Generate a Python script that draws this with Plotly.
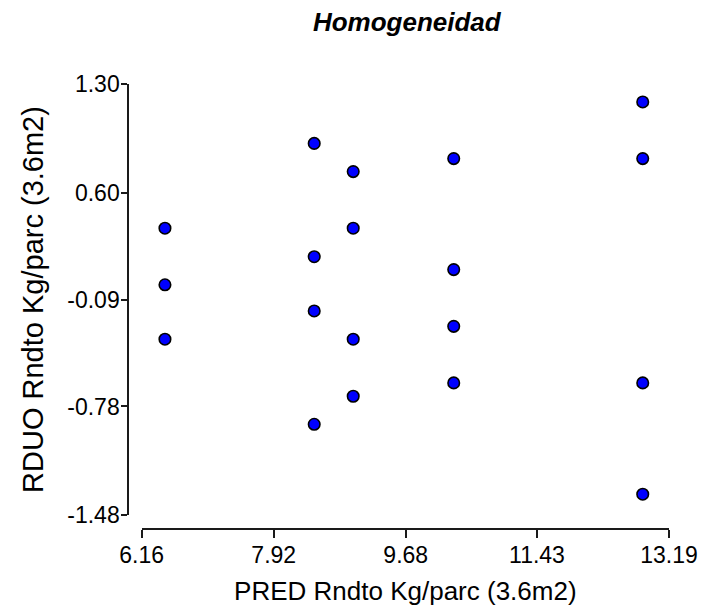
import plotly.graph_objects as go

# Data
pred = [6.47, 6.47, 6.47,
        8.46, 8.46, 8.46, 8.46,
        8.98, 8.98, 8.98, 8.98,
        10.32, 10.32, 10.32, 10.32,
        12.84, 12.84, 12.84, 12.84]
rduo = [0.370, 0.005, -0.346,
        0.917, 0.186, -0.164, -0.895,
        0.735, 0.370, -0.346, -0.714,
        0.819, 0.103, -0.263, -0.628,
        1.184, 0.819, -0.628, -1.346]

x_ticks = [6.16, 7.92, 9.68, 11.43, 13.19]
x_ticktext = ["6.16", "7.92", "9.68", "11.43", "13.19"]
y_ticks = [-1.48, -0.78, -0.09, 0.60, 1.30]
y_ticktext = ["-1.48", "-0.78", "-0.09", "0.60", "1.30"]

title_text = "<b><i>Homogeneidad</i></b>"
x_title = "PRED Rndto Kg/parc (3.6m2)"
y_title = "RDUO Rndto Kg/parc (3.6m2)"

FONT = "Liberation Sans, Arial, sans-serif"

fig = go.Figure()
fig.add_trace(go.Scatter(
    x=pred, y=rduo, mode="markers",
    marker=dict(size=11.5, color="#0000FF", line=dict(color="#000000", width=1.6)),
    cliponaxis=False, showlegend=False,
))

fig.update_layout(
    width=704, height=615,
    margin=dict(l=100, r=24, t=60, b=60, autoexpand=False),
    paper_bgcolor="white", plot_bgcolor="white",
    font=dict(family=FONT, color="#000000"),
    title=dict(text=title_text, x=0.529, xref="paper", xanchor="center",
               y=1 - 22 / 615, yanchor="middle",
               font=dict(size=26, family=FONT, color="#000000")),
    xaxis=dict(
        domain=[0.0719, 0.981], range=[6.16, 13.19],
        anchor="free", position=0.0535,
        tickmode="array", tickvals=x_ticks, ticktext=x_ticktext,
        showline=True, linecolor="#1a1a1a", linewidth=2,
        ticks="outside", ticklen=8, tickwidth=2, tickcolor="#1a1a1a",
        showgrid=False, zeroline=False,
        tickfont=dict(size=23, family=FONT, color="#000000"),
        ticklabelstandoff=-2,
        title=dict(text=x_title, font=dict(size=26, family=FONT, color="#000000"), standoff=14),
        automargin=False,
    ),
    yaxis=dict(
        domain=[0.0808, 0.9515], range=[-1.48, 1.30],
        anchor="free", position=0.0488,
        tickmode="array", tickvals=y_ticks, ticktext=y_ticktext,
        showline=True, linecolor="#1a1a1a", linewidth=2,
        ticks="outside", ticklen=6, tickwidth=2, tickcolor="#1a1a1a",
        showgrid=False, zeroline=False,
        tickfont=dict(size=23, family=FONT, color="#000000"),
        ticklabelstandoff=-3,
        title=dict(text=y_title, font=dict(size=29, family=FONT, color="#000000"), standoff=14),
        automargin=False,
    ),
)

fig.write_html("out.html")
